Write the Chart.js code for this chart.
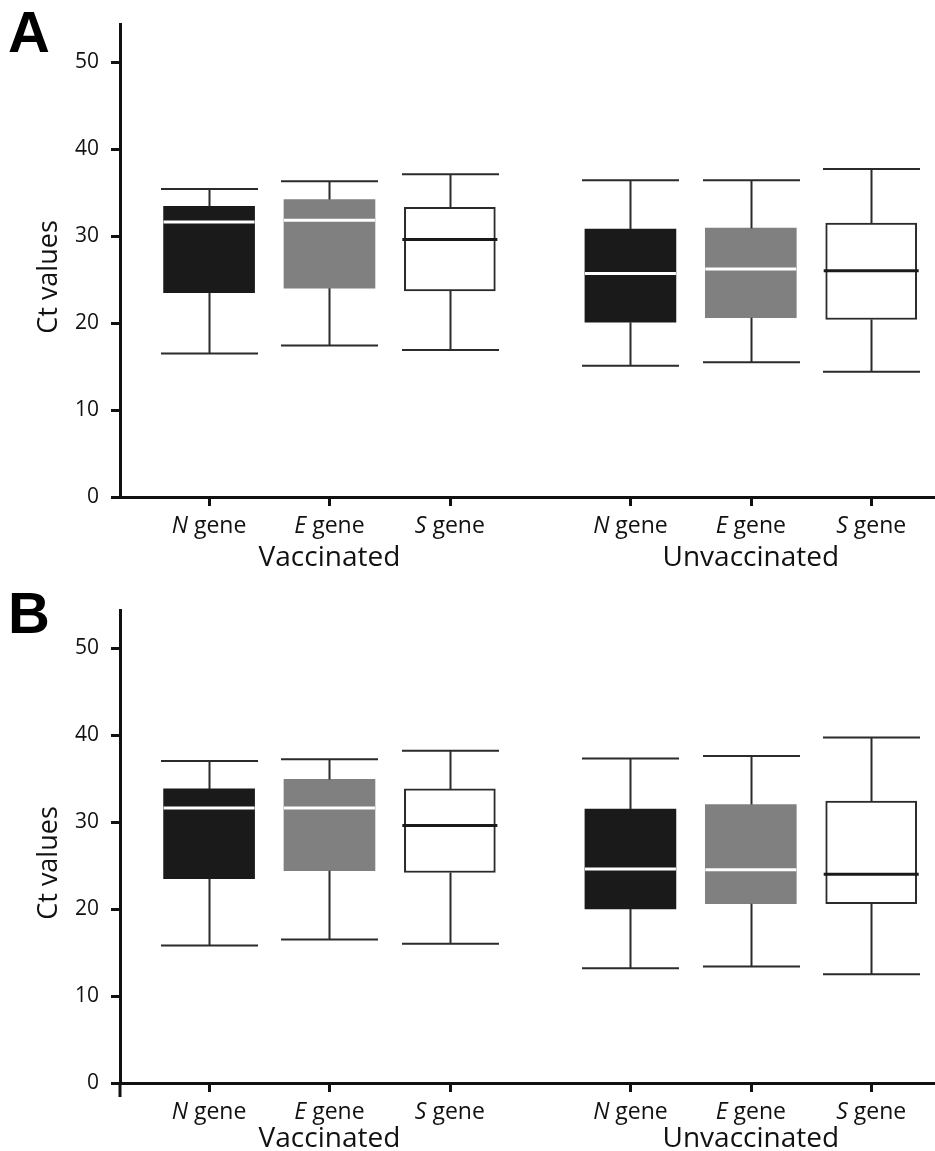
<!DOCTYPE html>
<html>
<head>
<meta charset="utf-8">
<script src="https://cdn.jsdelivr.net/npm/chart.js@4.4.0/dist/chart.umd.min.js"></script>
<style>
  html, body { margin: 0; padding: 0; background: #fff; overflow: hidden; }
  body { width: 935px; height: 1151px; position: relative; }
  .panel { position: absolute; left: 0; width: 935px; }
  #panelA { top: 0; height: 586px; }
  #panelB { top: 586px; height: 565px; }
</style>
</head>
<body>
<div class="panel" id="panelA"><canvas id="chartA"></canvas></div>
<div class="panel" id="panelB"><canvas id="chartB"></canvas></div>

<script>
// categories
const positions = [1, 2, 3, 4.5, 5.5, 6.5];
const genes = ["N", "E", "S", "N", "E", "S"];
const groups = ["Vaccinated", "Unvaccinated"];
const groupCenters = [2, 5.5];
const yTicks = [0, 10, 20, 30, 40, 50];

// panel A: min, Q1, median, Q3, max
const aMin = [16.5, 17.4, 16.9, 15.1, 15.5, 14.4];
const aQ1  = [23.5, 24.0, 23.7, 20.1, 20.6, 20.4];
const aMed = [31.6, 31.8, 29.6, 25.7, 26.2, 26.0];
const aQ3  = [33.4, 34.2, 33.3, 30.8, 30.9, 31.5];
const aMax = [35.4, 36.3, 37.1, 36.4, 36.4, 37.7];

// panel B
const bMin = [15.8, 16.5, 16.0, 13.2, 13.4, 12.5];
const bQ1  = [23.5, 24.4, 24.2, 20.0, 20.6, 20.6];
const bMed = [31.6, 31.6, 29.6, 24.6, 24.5, 24.0];
const bQ3  = [33.8, 34.9, 33.8, 31.5, 32.0, 32.4];
const bMax = [37.0, 37.2, 38.2, 37.3, 37.6, 39.7];

const ink = "#111111";
const lineInk = "#2b2b2b";
const fills = ["#1a1a1a", "#808080", "#ffffff", "#1a1a1a", "#808080", "#ffffff"];
const edges = ["#1a1a1a", "#808080", "#2b2b2b", "#1a1a1a", "#808080", "#2b2b2b"];
const edgeWidths = [0, 0, 2, 0, 0, 2];
const medianColors = ["#ffffff", "#ffffff", "#1a1a1a", "#ffffff", "#ffffff", "#1a1a1a"];
const font = '"Open Sans", "DejaVu Sans", sans-serif';

function makeChart(id, height, mins, q1s, meds, q3s, maxs, letter, letterY, overhang, groupY) {
  const boxPlugin = {
    id: "boxExtras",
    afterDatasetsDraw(chart) {
      const ctx = chart.ctx;
      const x = chart.scales.x;
      const y = chart.scales.y;
      const area = chart.chartArea;
      const halfBox = 45.5;
      const halfCap = 48.5;
      ctx.save();

      // whiskers
      ctx.strokeStyle = lineInk;
      ctx.lineWidth = 2;
      positions.forEach((p, i) => {
        const cx = Math.round(x.getPixelForValue(p)) + 0.5;
        const yMax = y.getPixelForValue(maxs[i]);
        const yMin = y.getPixelForValue(mins[i]);
        ctx.beginPath();
        ctx.moveTo(cx, yMax);
        ctx.lineTo(cx, y.getPixelForValue(q3s[i]));
        ctx.moveTo(cx, y.getPixelForValue(q1s[i]));
        ctx.lineTo(cx, yMin);
        ctx.moveTo(cx - halfCap, yMax);
        ctx.lineTo(cx + halfCap, yMax);
        ctx.moveTo(cx - halfCap, yMin);
        ctx.lineTo(cx + halfCap, yMin);
        ctx.stroke();
      });

      // medians
      ctx.lineWidth = 3;
      positions.forEach((p, i) => {
        const cx = x.getPixelForValue(p);
        const ym = y.getPixelForValue(meds[i]);
        const ext = medianColors[i] === "#ffffff" ? 0 : 2;
        ctx.strokeStyle = medianColors[i];
        ctx.beginPath();
        ctx.moveTo(cx - halfBox - ext, ym);
        ctx.lineTo(cx + halfBox + ext, ym);
        ctx.stroke();
      });

      // x tick marks under each gene
      ctx.strokeStyle = ink;
      ctx.lineWidth = 3;
      ctx.beginPath();
      positions.forEach(p => {
        const cx = Math.round(x.getPixelForValue(p)) + 0.5;
        ctx.moveTo(cx, area.bottom);
        ctx.lineTo(cx, area.bottom + 9);
      });
      // y axis running past the x axis
      if (overhang) {
        ctx.moveTo(area.left, area.bottom);
        ctx.lineTo(area.left, area.bottom + overhang);
      }
      ctx.stroke();

      // gene labels with italic letter
      ctx.fillStyle = ink;
      ctx.textBaseline = "alphabetic";
      ctx.textAlign = "left";
      positions.forEach((p, i) => {
        const cx = x.getPixelForValue(p);
        ctx.font = "italic 23px " + font;
        const w1 = ctx.measureText(genes[i]).width;
        ctx.font = "23px " + font;
        const w2 = ctx.measureText(" gene").width;
        const x0 = cx - (w1 + w2) / 2;
        ctx.font = "italic 23px " + font;
        ctx.fillText(genes[i], x0, area.bottom + 36);
        ctx.font = "23px " + font;
        ctx.fillText(" gene", x0 + w1, area.bottom + 36);
      });

      // group labels
      ctx.textAlign = "center";
      ctx.font = "28px " + font;
      groups.forEach((g, i) => {
        ctx.fillText(g, x.getPixelForValue(groupCenters[i]), area.bottom + groupY);
      });

      // y title
      ctx.save();
      ctx.translate(57, 277);
      ctx.rotate(-Math.PI / 2);
      ctx.font = "27px " + font;
      ctx.fillText("Ct values", 0, 0);
      ctx.restore();

      // panel letter
      ctx.textAlign = "left";
      ctx.font = "bold 58px 'Liberation Sans', Arial, sans-serif";
      ctx.fillStyle = "#000";
      ctx.fillText(letter, 8, letterY);

      ctx.restore();
    }
  };

  return new Chart(document.getElementById(id), {
    type: "bar",
    data: {
      datasets: [{
        data: positions.map((p, i) => ({ x: p, y: [q1s[i], q3s[i]] })),
        backgroundColor: fills,
        borderColor: edges,
        borderWidth: edgeWidths,
        borderSkipped: false,
        barThickness: 91
      }]
    },
    options: {
      responsive: true,
      maintainAspectRatio: false,
      animation: false,
      layout: { padding: { top: 22, left: 0, right: 0, bottom: 0 } },
      plugins: {
        legend: { display: false },
        tooltip: { enabled: false }
      },
      scales: {
        x: {
          type: "linear",
          offset: false,
          min: 0.26,
          max: 7.03,
          afterBuildTicks: s => { s.ticks = positions.map(v => ({ value: v })); },
          afterFit: s => { s.height = height - 497; },
          ticks: { display: false },
          grid: { display: false },
          border: { display: true, width: 3, color: ink }
        },
        y: {
          min: 0,
          max: 54.3,
          afterBuildTicks: s => { s.ticks = yTicks.map(v => ({ value: v })); },
          afterFit: s => { s.width = 120; },
          ticks: { color: ink, padding: 12, font: { family: font, size: 21 } },
          grid: { drawOnChartArea: false, drawTicks: true, tickLength: 9, tickWidth: 3, tickColor: ink },
          border: { display: true, width: 3, color: ink }
        }
      }
    },
    plugins: [boxPlugin]
  });
}

makeChart("chartA", 586, aMin, aQ1, aMed, aQ3, aMax, "A", 52, 0, 69);
makeChart("chartB", 565, bMin, bQ1, bMed, bQ3, bMax, "B", 47, 14, 64);
</script>
</body>
</html>
